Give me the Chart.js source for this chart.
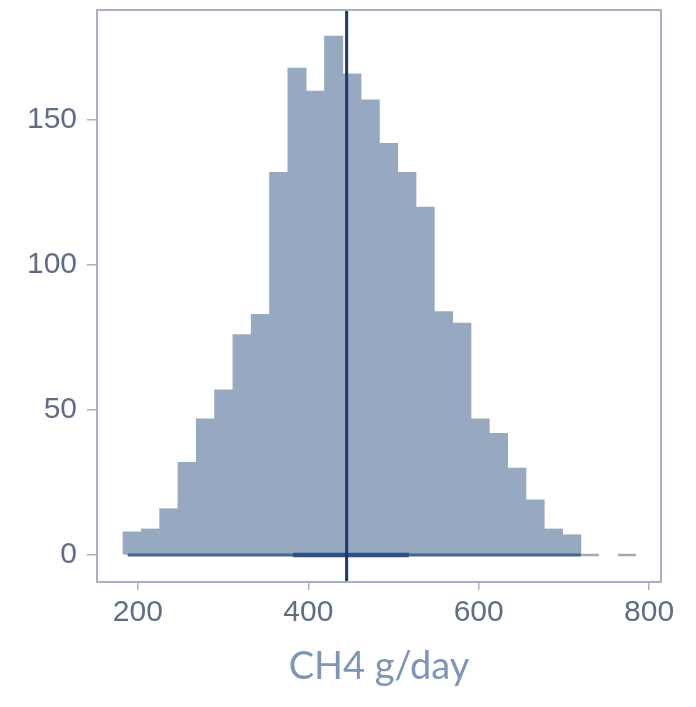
<!DOCTYPE html>
<html>
<head>
<meta charset="utf-8">
<script src="https://cdn.jsdelivr.net/npm/chart.js@4"></script>
<style>
  html, body { margin: 0; padding: 0; background: #ffffff; }
  #wrap { width: 696px; height: 707px; position: relative; }
</style>
</head>
<body>
<div id="wrap"><canvas id="histChart"></canvas></div>
<script>
// Histogram bins (centre of each bin, CH4 g/day) and counts
const binCenters = [193.25, 214.75, 236.25, 257.75, 279.25, 300.75, 322.25, 343.75, 365.25, 386.75,
    408.25, 429.75, 451.25, 472.75, 494.25, 515.75, 537.25, 558.75, 580.25, 601.75,
    623.25, 644.75, 666.25, 687.75, 709.25];
const binCounts = [8, 9, 16, 32, 47, 57, 76, 83, 132, 168,
    160, 179, 166, 157, 142, 132, 120, 84, 80, 47,
    42, 30, 19, 9, 7];

// Mean line and interval bars drawn along zero
const meanCH4 = 445;
const rangeInterval = [188, 720];
const innerInterval = [382, 518];
const tailInterval = [720, 785];

// Axis ranges and ticks
const xRange = [152, 814];
const yRange = [-9.3, 188];
const xStep = 200;
const yStep = 50;
const axisTitle = 'CH4 g/day';

// Colors
const barColor = '#97a9c1';
const meanColor = '#1d3868';
const frameColor = '#a7b1c2';
const tickColor = '#5f6d86';
const titleColor = '#7e95b6';

// Draws the box round the plot area
const frameBox = {
    id: 'frameBox',
    afterDraw(chart) {
        const a = chart.chartArea;
        const ctx = chart.ctx;
        ctx.save();
        ctx.strokeStyle = frameColor;
        ctx.lineWidth = 2;
        ctx.strokeRect(a.left, a.top, a.right - a.left, a.bottom - a.top);
        ctx.restore();
    }
};

function segment(pair, y) {
    return pair.map(v => ({ x: v, y: y }));
}

function initializeHistogram() {
    const ctx = document.getElementById('histChart');
    if (!ctx) return;

    const barData = binCenters.map((c, i) => ({ x: c, y: binCounts[i] }));

    return new Chart(ctx.getContext('2d'), {
        type: 'bar',
        data: {
            datasets: [
                {
                    type: 'line',
                    data: [{ x: meanCH4, y: yRange[0] }, { x: meanCH4, y: yRange[1] }],
                    borderColor: meanColor,
                    borderWidth: 3,
                    pointRadius: 0,
                    order: 1
                },
                {
                    type: 'line',
                    data: segment(innerInterval, 0),
                    borderColor: '#2d4f82',
                    borderWidth: 4.5,
                    pointRadius: 0,
                    order: 2
                },
                {
                    type: 'line',
                    data: segment(rangeInterval, 0),
                    borderColor: '#45658f',
                    borderWidth: 3,
                    pointRadius: 0,
                    order: 3
                },
                {
                    type: 'line',
                    data: segment(tailInterval, 0),
                    borderColor: '#a4aab3',
                    borderWidth: 2.5,
                    borderDash: [18, 19],
                    pointRadius: 0,
                    order: 3
                },
                {
                    type: 'bar',
                    data: barData,
                    backgroundColor: barColor,
                    borderWidth: 0,
                    barPercentage: 1,
                    categoryPercentage: 1,
                    order: 4
                }
            ]
        },
        options: {
            responsive: true,
            maintainAspectRatio: false,
            animation: false,
            layout: {
                padding: { top: 10, right: 35, bottom: 0, left: 0 }
            },
            plugins: {
                legend: { display: false },
                tooltip: { enabled: false }
            },
            scales: {
                x: {
                    type: 'linear',
                    min: xRange[0],
                    max: xRange[1],
                    offset: false,
                    afterFit: s => {
                        s.height = 125;
                        s.paddingLeft = 0;
                        s.paddingRight = 0;
                    },
                    border: { display: false },
                    grid: {
                        offset: false,
                        drawOnChartArea: false,
                        drawTicks: true,
                        tickLength: 8,
                        color: frameColor,
                        lineWidth: 1.5
                    },
                    ticks: {
                        stepSize: xStep,
                        includeBounds: false,
                        padding: 5,
                        color: tickColor,
                        font: { family: 'Liberation Sans', size: 30 }
                    },
                    title: {
                        display: true,
                        text: axisTitle,
                        color: titleColor,
                        font: { family: 'Lato', size: 38 },
                        padding: { top: 0, bottom: 17 }
                    }
                },
                y: {
                    type: 'linear',
                    min: yRange[0],
                    max: yRange[1],
                    afterFit: s => {
                        s.width = 97;
                        s.paddingTop = 0;
                        s.paddingBottom = 0;
                    },
                    border: { display: false },
                    grid: {
                        drawOnChartArea: false,
                        drawTicks: true,
                        tickLength: 10,
                        color: frameColor,
                        lineWidth: 1.5
                    },
                    ticks: {
                        stepSize: yStep,
                        includeBounds: false,
                        padding: 10,
                        color: tickColor,
                        font: { family: 'Liberation Sans', size: 30 }
                    }
                }
            }
        },
        plugins: [frameBox]
    });
}

initializeHistogram();
</script>
</body>
</html>
